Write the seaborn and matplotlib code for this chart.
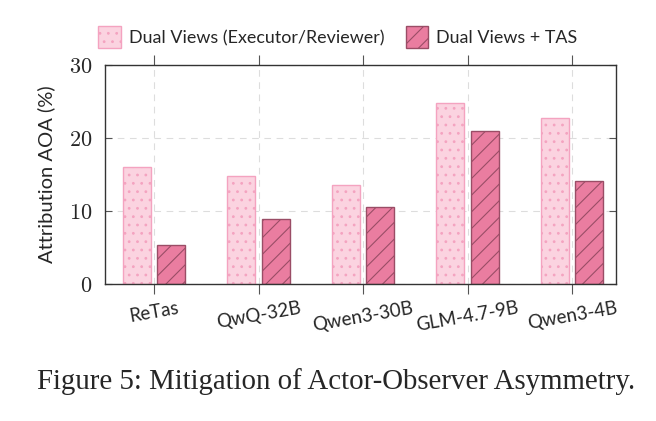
import seaborn as sns
import matplotlib.pyplot as plt
import pandas as pd

# values
models = ['ReTas', 'QwQ-32B', 'Qwen3-30B', 'GLM-4.7-9B', 'Qwen3-4B']
dual_views = [16.0, 14.8, 13.6, 24.8, 22.7]
dual_views_tas = [5.4, 8.9, 10.5, 20.9, 14.1]
series = ['Dual Views (Executor/Reviewer)', 'Dual Views + TAS']
yticks = [0, 10, 20, 30]

light_fill, light_edge = '#fbd3e0', '#f4a3c0'
dark_fill, dark_edge = '#ea7da0', '#9a4d66'

df = pd.DataFrame({
    'model': models * 2,
    'aoa': dual_views + dual_views_tas,
    'setting': [series[0]] * len(models) + [series[1]] * len(models),
})

sns.set_style('white')
plt.rcParams['font.family'] = ['Lato', 'DejaVu Sans']
plt.rcParams['mathtext.fontset'] = 'cm'
plt.rcParams['hatch.linewidth'] = 0.8

fig = plt.figure(figsize=(6.56, 4.21), dpi=100)
ax = fig.add_axes([0.160, 0.325, 0.779, 0.521])

sns.barplot(data=df, x='model', y='aoa', hue='setting', order=models,
            hue_order=series, palette=[light_fill, dark_fill],
            width=0.66, gap=0.18, ax=ax, legend=False)

for i, bar in enumerate(ax.patches[:2 * len(models)]):
    if i < len(models):
        bar.set_facecolor(light_fill)
        bar.set_edgecolor(light_edge)
        bar.set_hatch('..')
    else:
        bar.set_facecolor(dark_fill)
        bar.set_edgecolor(dark_edge)
        bar.set_hatch('//')
    bar.set_linewidth(1.0)

ax.set_xlim(-0.47, 4.42)
ax.set_ylim(0, 30)
ax.set_yticks(yticks)
ax.set_yticklabels(['$%d$' % v for v in yticks], fontsize=16)
ax.set_xticks(range(len(models)))
ax.set_xticklabels(models, rotation=10, fontsize=13.5, ha='center')
ax.set_xlabel('')
ax.set_ylabel('Attribution AOA (%)', fontsize=14.5, labelpad=10)

ax.grid(True, linestyle=(0, (6, 5)), color='#dddddd', linewidth=0.8)
ax.set_axisbelow(True)
for s in ax.spines.values():
    s.set_color('#333333')
    s.set_linewidth(1.0)
ax.tick_params(axis='y', direction='in', length=5, left=True, right=True,
               color='#555555', pad=9)
ax.tick_params(axis='x', direction='out', length=7, bottom=True, top=True,
               color='#555555', pad=4)

handles = [
    plt.Rectangle((0, 0), 1, 1, facecolor=light_fill, edgecolor=light_edge, hatch='..'),
    plt.Rectangle((0, 0), 1, 1, facecolor=dark_fill, edgecolor=dark_edge, hatch='//'),
]
fig.legend(handles, series, loc='center', bbox_to_anchor=(0.515, 0.912), ncol=2,
           frameon=False, fontsize=12.9, handlelength=1.25, handleheight=1.5,
           columnspacing=1.2, handletextpad=0.45)

fig.text(0.513, 0.093, 'Figure 5: Mitigation of Actor-Observer Asymmetry.',
         ha='center', va='center', fontsize=20.8, family='Liberation Serif')

fig.savefig('out.png', dpi=100)
